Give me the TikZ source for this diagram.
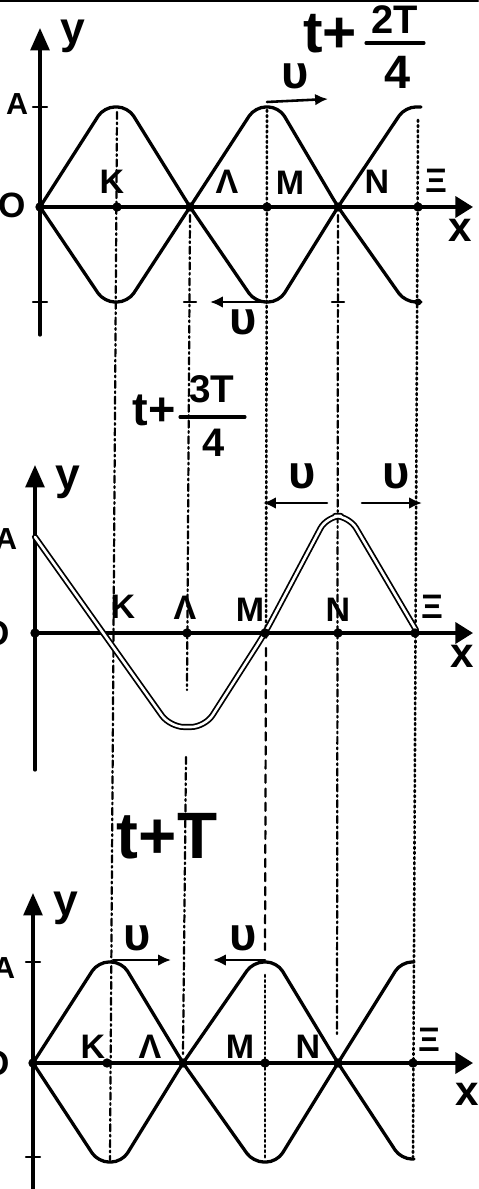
\documentclass[tikz,border=0pt]{standalone}
\usepackage{fontspec}
\setmainfont{Liberation Sans}
\usetikzlibrary{arrows.meta}
\begin{document}
\begin{tikzpicture}[x=0.03cm,y=-0.03cm,line cap=round,line join=round,
  wave/.style={line width=2.8pt, rounded corners=9pt},
  dbl/.style={line width=1.5pt, double, double distance=2.2pt, rounded corners=12pt},
  axl/.style={line width=2.8pt},
  yarr/.style={-{Triangle[length=19pt,width=16pt]}},
  xarr/.style={-{Triangle[length=15pt,width=18pt]}},
  vel/.style={line width=2.2pt,-{Latex[length=11pt,width=10pt]}},
  dd/.style={line width=1.9pt, dash pattern=on 6pt off 3pt on 1.5pt off 3pt},
  dt/.style={line width=2.2pt, dash pattern=on 1.6pt off 2.8pt},
  ds/.style={line width=1.9pt, dash pattern=on 7pt off 5pt},
  lbl/.style={font=\fontsize{29}{29}\selectfont\bfseries, inner sep=0pt},
  albl/.style={font=\fontsize{26}{26}\selectfont\bfseries, inner sep=0pt},
  olbl/.style={font=\fontsize{30}{30}\selectfont\bfseries, inner sep=0pt},
  ylbl/.style={font=\fontsize{38}{38}\selectfont\bfseries, inner sep=0pt},
  xlbl/.style={font=\fontsize{36}{36}\selectfont\bfseries, inner sep=0pt},
  ulbl/.style={font=\fontsize{40}{40}\selectfont\bfseries, inner sep=0pt},
  dot/.style={circle, fill=black, inner sep=0pt, minimum size=8pt}]
\useasboundingbox (0,0) rectangle (478,1189);
\draw[line width=1.8pt] (0,1) -- (478,1);

% ---------- vertical guide lines ----------
\draw[dd] (117,112) -- (110,1160);
\draw[dd] (190,215) -- (187,690);
\draw[dd] (186,757) -- (183,1055);
\draw[dt] (267,110) -- (266,640);
\draw[ds] (266,648) -- (265,950);
\draw[dt] (265,975) -- (265,1160);
\draw[dd] (338,215) -- (337,1035);
\draw[dt] (418,120) -- (413,1157);

% ---------- top panel: t + 2T/4 ----------
\draw[axl,yarr] (40,335) -- (40,28);
\draw[axl,xarr] (40,207) -- (473,207);
\draw[line width=2pt] (33,107) -- (47,107) (33,302) -- (47,302);
\draw[line width=2pt] (184,302) -- (196,302) (332,302) -- (344,302);
\draw[wave] (40,207) -- (104,107) -- (128,107) -- (190,207) -- (255,302) -- (279,302)
  -- (338,207) -- (405,107) -- (421,107);
\draw[wave] (40,207) -- (104,302) -- (128,302) -- (190,207) -- (255,107) -- (279,107)
  -- (338,207) -- (405,302) -- (421,302);
\foreach \p/\n in {40/tO,117/tK,190/tL,267/tM,338/tN,418/tX} \node[dot] (\n) at (\p,207) {};
\node[dot,minimum size=6pt] (tXb) at (418,302) {};
\node[ylbl] (ty) at (73,36) {y};
\node[albl] (tA) at (17,104) {A};
\node[olbl] (tOl) at (12,205) {O};
\node[lbl] (tKl) at (112,182) {K};
\node[lbl] (tLl) at (227,182) {Λ};
\node[lbl] (tMl) at (290,183) {M};
\node[lbl] (tNl) at (377,182) {N};
\node[lbl] (tXl) at (436,181) {Ξ};
\node[xlbl] (tx) at (460,230) {x};
\coordinate (tv1) at (328,99);
\coordinate (tv2) at (210,302);
\draw[vel] (267,102) -- (tv1);
\draw[vel] (267,302) -- (tv2);
\node[ulbl] (tU1) at (295,76) {υ};
\node[ulbl] (tU2) at (243,322) {υ};
\node[font=\fontsize{50}{50}\selectfont\bfseries, inner sep=0pt] (tt) at (330,34) {t+};
\node[font=\fontsize{34}{34}\selectfont\bfseries, inner sep=0pt] (tnum) at (395,20) {2T};
\node[font=\fontsize{40}{40}\selectfont\bfseries, inner sep=0pt] (tden) at (398,72) {4};
\draw[line width=2.6pt] (366,43) -- (424,43);

% ---------- middle panel: t + 3T/4 ----------
\draw[axl,yarr] (35,770) -- (35,465);
\draw[axl,xarr] (35,633) -- (473,633);
\draw[dbl] (35,537) -- (170,727) -- (205,727) -- (265,633) -- (327,516) -- (349,516) -- (416,630);
\foreach \p/\n in {35/mO,187/mL,265/mM,338/mN,415/mX} \node[dot] (\n) at (\p,633) {};
\node[ylbl] (my) at (68,482) {y};
\node[albl] (mA) at (6,539) {A};
\node[olbl] (mOl) at (-4,633) {O};
\node[lbl] (mKl) at (123,607) {K};
\node[lbl] (mLl) at (185,608) {Λ};
\node[lbl] (mMl) at (250,610) {M};
\node[lbl] (mNl) at (338,610) {N};
\node[lbl] (mXl) at (432,607) {Ξ};
\node[xlbl] (mx) at (462,656) {x};
\coordinate (mv1s) at (327,503);
\coordinate (mv1) at (263,503);
\coordinate (mv2s) at (362,503);
\coordinate (mv2) at (422,503);
\draw[vel] (mv1s) -- (mv1);
\draw[vel] (mv2s) -- (mv2);
\node[ulbl] (mU1) at (302,476) {υ};
\node[ulbl] (mU2) at (396,476) {υ};
\node[font=\fontsize{40}{40}\selectfont\bfseries, inner sep=0pt] (mt) at (154,410) {t+};
\node[font=\fontsize{33}{33}\selectfont\bfseries, inner sep=0pt] (mnum) at (212,389) {3T};
\node[font=\fontsize{34}{34}\selectfont\bfseries, inner sep=0pt] (mden) at (214,443) {4};
\draw[line width=2.6pt] (180,417) -- (245,417);

% ---------- bottom panel: t + T ----------
\draw[axl,yarr] (33,1189) -- (33,893);
\draw[axl,xarr] (33,1063) -- (473,1063);
\draw[line width=2pt] (26,962) -- (40,962) (26,1157) -- (40,1157);
\draw[wave] (33,1063) -- (98,962) -- (122,962) -- (183,1063) -- (253,1162) -- (277,1162)
  -- (338,1063) -- (401,962) -- (414,962);
\draw[wave] (33,1063) -- (98,1162) -- (122,1162) -- (183,1063) -- (253,962) -- (277,962)
  -- (338,1063) -- (401,1159) -- (414,1159);
\foreach \p/\n in {33/bO,107/bK,183/bL,265/bM,338/bN,413/bX} \node[dot] (\n) at (\p,1063) {};
\node[ylbl] (by) at (66,908) {y};
\node[albl] (bA) at (4,968) {A};
\node[olbl] (bOl) at (-4,1063) {O};
\node[lbl] (bKl) at (93,1047) {K};
\node[lbl] (bLl) at (150,1047) {Λ};
\node[lbl] (bMl) at (240,1047) {M};
\node[lbl] (bNl) at (308,1047) {N};
\node[lbl] (bXl) at (429,1040) {Ξ};
\node[xlbl] (bx) at (467,1094) {x};
\coordinate (bv1) at (171,960);
\coordinate (bv2) at (213,960);
\draw[vel] (113,960) -- (bv1);
\draw[vel] (265,960) -- (bv2);
\node[ulbl] (bU1) at (137,938) {υ};
\node[ulbl] (bU2) at (243,938) {υ};
\node[font=\fontsize{56}{56}\selectfont\bfseries, inner sep=0pt] (bt) at (167,836) {t+T};
\end{tikzpicture}
\end{document}
